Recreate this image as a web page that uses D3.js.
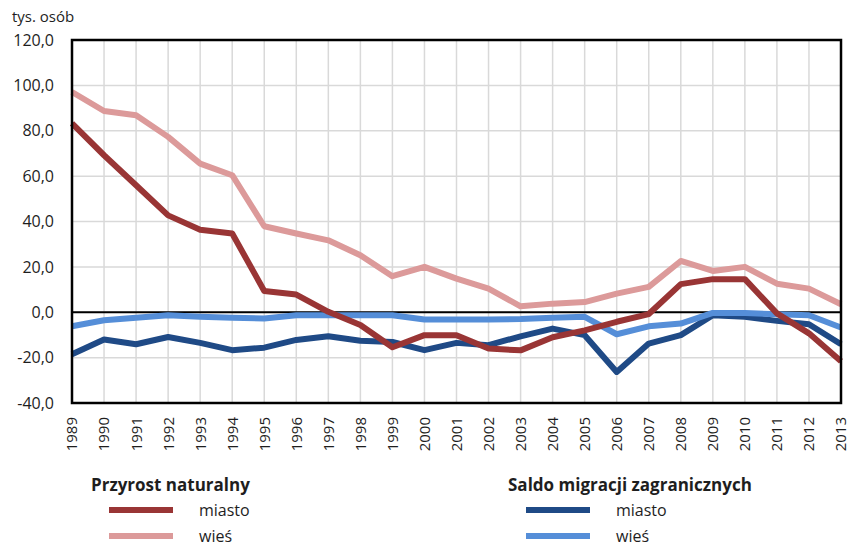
<!DOCTYPE html>
<html>
<head>
<meta charset="utf-8">
<script src="https://cdn.jsdelivr.net/npm/d3@7/dist/d3.min.js"></script>
<style>
body {
  margin: 0;
  background-color: white;
}
svg text {
  font-family: "Open Sans", sans-serif;
  fill: #1e1e1e;
}
.axis path,
.axis line {
  display: none;
}
</style>
</head>
<body>
<script>
const years = [1989, 1990, 1991, 1992, 1993, 1994, 1995, 1996, 1997, 1998, 1999, 2000,
               2001, 2002, 2003, 2004, 2005, 2006, 2007, 2008, 2009, 2010, 2011, 2012, 2013];

// Przyrost naturalny
const natMiasto = [83.2, 69.2, 56, 42.7, 36.4, 34.7, 9.4, 7.8, 0.2, -5.6, -15.4, -10.1, -10.1, -16, -16.8,
                   -11, -8, -4.2, -0.8, 12.4, 14.6, 14.6, -0.5, -9.3, -21.6];
const natWies = [97.1, 88.7, 86.8, 77.3, 65.5, 60.4, 37.9, 34.7, 31.7, 25.1, 15.9, 20, 14.8, 10.4, 2.6,
                 3.8, 4.5, 8.2, 11.2, 22.6, 18.2, 20, 12.6, 10.4, 3.5];

// Saldo migracji zagranicznych
const migMiasto = [-18.5, -12, -14.1, -10.9, -13.5, -16.7, -15.6, -12.2, -10.6, -12.6, -13.1, -16.7, -13.5,
                   -14.5, -10.6, -7.2, -10.1, -26.3, -13.8, -10.1, -1.3, -2, -3.8, -5.3, -14.1];
const migWies = [-6.2, -3.5, -2.4, -1.3, -2, -2.4, -2.8, -1.3, -1.3, -1.3, -1.3, -3.2, -3.2, -3.2, -3,
                 -2.4, -2, -9.7, -6.2, -5, -0.3, -0.3, -0.9, -1.3, -6.7];

const yTicks = [-40, -20, 0, 20, 40, 60, 80, 100, 120];

const series = [
  {name: "migMiasto", values: migMiasto, color: "#1f4a86"},
  {name: "migWies", values: migWies, color: "#558ed8"},
  {name: "natMiasto", values: natMiasto, color: "#993535"},
  {name: "natWies", values: natWies, color: "#dc9a9a"}
];

const legends = [
  {title: "Przyrost naturalny", x: 91, items: [
    {label: "miasto", color: "#993535"},
    {label: "wieś", color: "#dc9a9a"}]},
  {title: "Saldo migracji zagranicznych", x: 508, items: [
    {label: "miasto", color: "#1f4a86"},
    {label: "wieś", color: "#558ed8"}]}
];

const svg = d3.select("body")
              .append("svg")
              .attr("width", 851)
              .attr("height", 546);

const margin = {top: 40, right: 10, bottom: 143, left: 72};
const width = +svg.attr("width") - margin.left - margin.right;
const height = +svg.attr("height") - margin.top - margin.bottom;

const g = svg.append("g")
             .attr("transform", `translate(${margin.left}, ${margin.top})`);

const xScale = d3.scalePoint()
                 .domain(years)
                 .range([0, width]);

const yScale = d3.scaleLinear()
                 .domain([-40, 120])
                 .range([height, 0]);

// grid
g.append("g")
 .selectAll("line")
 .data(yTicks)
 .join("line")
 .attr("x1", 0).attr("x2", width)
 .attr("y1", d => yScale(d)).attr("y2", d => yScale(d))
 .attr("stroke", "#d9d9d9")
 .attr("stroke-width", 1.5);

g.append("g")
 .selectAll("line")
 .data(years)
 .join("line")
 .attr("x1", d => xScale(d)).attr("x2", d => xScale(d))
 .attr("y1", 0).attr("y2", height)
 .attr("stroke", "#d9d9d9")
 .attr("stroke-width", 1.5);

// zero line
g.append("line")
 .attr("x1", 0).attr("x2", width)
 .attr("y1", yScale(0)).attr("y2", yScale(0))
 .attr("stroke", "black")
 .attr("stroke-width", 2);

const line = d3.line()
               .x((d, i) => xScale(years[i]))
               .y(d => yScale(d));

g.selectAll(".series")
 .data(series)
 .join("path")
 .attr("class", "series")
 .attr("fill", "none")
 .attr("stroke", d => d.color)
 .attr("stroke-width", 6)
 .attr("stroke-linejoin", "round")
 .attr("d", d => line(d.values));

// frame
g.append("rect")
 .attr("width", width)
 .attr("height", height)
 .attr("fill", "none")
 .attr("stroke", "black")
 .attr("stroke-width", 2.5);

const yAxis = d3.axisLeft(yScale)
                .tickValues(yTicks)
                .tickFormat(d => d3.format(".1f")(d).replace(".", ",").replace("−", "-"));

g.append("g")
 .attr("class", "axis")
 .call(yAxis)
 .call(a => a.selectAll("text")
             .attr("x", -18)
             .attr("font-size", "16px")
             .attr("font-family", "Open Sans, sans-serif")
             .attr("fill", "#1e1e1e"));

const xAxis = d3.axisBottom(xScale);

g.append("g")
 .attr("class", "axis")
 .attr("transform", `translate(0, ${height})`)
 .call(xAxis)
 .call(a => a.selectAll("text")
             .attr("transform", "rotate(-90)")
             .attr("x", -14)
             .attr("y", 0)
             .attr("dy", "0.33em")
             .attr("text-anchor", "end")
             .attr("font-size", "15px")
             .attr("font-family", "Open Sans, sans-serif")
             .attr("fill", "#1e1e1e"));

svg.append("text")
   .attr("x", 12)
   .attr("y", 22)
   .attr("font-size", "15px")
   .text("tys. osób");

// legend
const leg = svg.selectAll(".legend")
               .data(legends)
               .join("g")
               .attr("class", "legend")
               .attr("transform", d => `translate(${d.x}, 491)`);

leg.append("text")
   .attr("font-size", "17px")
   .attr("font-weight", "bold")
   .text(d => d.title);

const item = leg.selectAll(".item")
                .data(d => d.items)
                .join("g")
                .attr("class", "item")
                .attr("transform", (d, i) => `translate(0, ${19 + i * 26})`);

item.append("line")
    .attr("x1", 18).attr("x2", 82)
    .attr("stroke", d => d.color)
    .attr("stroke-width", 6);

item.append("text")
    .attr("x", 108)
    .attr("y", 6)
    .attr("font-size", "16px")
    .text(d => d.label);
</script>
</body>
</html>
